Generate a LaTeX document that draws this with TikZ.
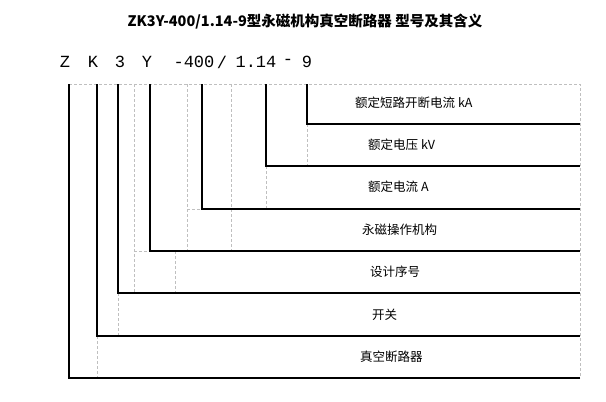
\documentclass[tikz,border=0pt]{standalone}
\usepackage{fontspec}
\setmainfont{Liberation Serif}
\newfontfamily\cjk{Noto Sans CJK SC}
\newfontfamily\codefont{Liberation Mono}
\begin{document}
\begin{tikzpicture}[x=1pt,y=-1pt,
  solid line/.style={black,line width=1.1pt},
  grid line/.style={gray!50,line width=0.6pt,dash pattern=on 3pt off 2pt},
  lab/.style={anchor=west,inner sep=0,font=\cjk\fontsize{12.5}{14}\selectfont},
  code/.style={inner sep=0,font=\codefont\fontsize{17}{18}\selectfont}]
\useasboundingbox (0,0) rectangle (606,402);
\node[inner sep=0,font=\cjk\bfseries\fontsize{14.5}{16}\selectfont] (title) at (305,22) {ZK3Y-400/1.14-9型永磁机构真空断路器 型号及其含义};
\node[code] (cZ) at (65,62) {Z};
\node[code] (cK) at (93,62) {K};
\node[code] (c3) at (120,62) {3};
\node[code] (cY) at (147,62) {Y};
\node[code] (c400) at (194,62) {-400};
\node[code] (cs) at (222,62) {/};
\node[code] (c114) at (256,62) {1.14};
\node[code] (cd) at (288,62) {-};
\node[code] (c9) at (307,62) {9};
% grid
\draw[grid line] (69,84) -- (580,84) -- (580,378);
\draw[grid line] (307,124) -- (307,166);
\draw[grid line] (266,166) -- (266,209);
\draw[grid line] (231,84) -- (231,251);
\draw[grid line] (187,84) -- (187,251);
\draw[grid line] (187,209) -- (202,209);
\draw[grid line] (134,84) -- (134,293);
\draw[grid line] (134,251) -- (150,251);
\draw[grid line] (175,251) -- (175,293);
\draw[grid line] (118,293) -- (118,336);
\draw[grid line] (97,336) -- (97,378);
% solid brackets
\draw[solid line] (307,84) -- (307,124) -- (580,124);
\draw[solid line] (266,84) -- (266,166) -- (580,166);
\draw[solid line] (202,84) -- (202,209) -- (580,209);
\draw[solid line] (150,84) -- (150,251) -- (580,251);
\draw[solid line] (118,84) -- (118,293) -- (580,293);
\draw[solid line] (97,84) -- (97,336) -- (580,336);
\draw[solid line] (69,84) -- (69,378) -- (580,378);
% labels
\node[lab] (l1) at (355,103) {额定短路开断电流 kA};
\node[lab] (l2) at (368,145) {额定电压 kV};
\node[lab] (l3) at (368,187) {额定电流 A};
\node[lab] (l4) at (362,230) {永磁操作机构};
\node[lab] (l5) at (370,272) {设计序号};
\node[lab] (l6) at (372,315) {开关};
\node[lab] (l7) at (360,357) {真空断路器};
\end{tikzpicture}
\end{document}
